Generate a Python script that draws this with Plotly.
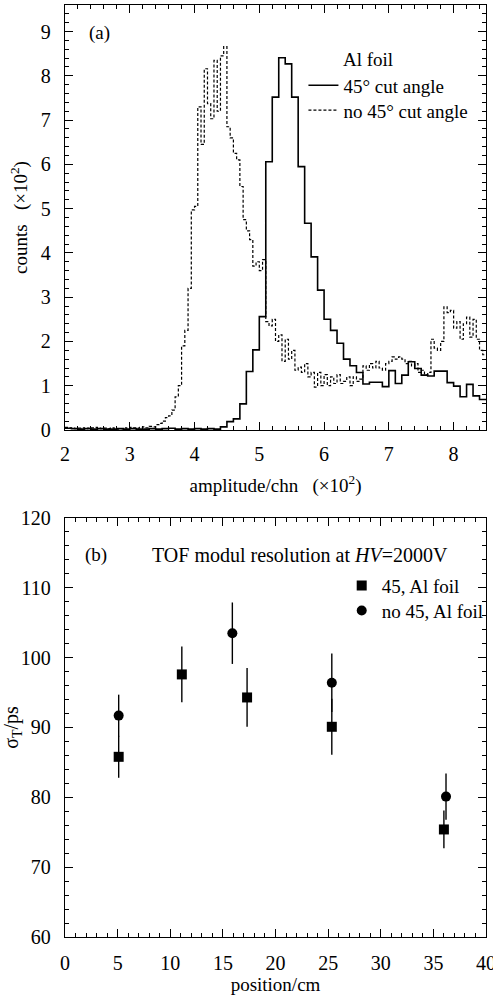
import numpy as np
import plotly.graph_objects as go

# ---------------- data: panel (a) histograms ----------------
SOLID_START = 2.0
SOLID_WIDTH = 0.1
solid_counts = [
    0.04, 0.03, 0.02, 0.03, 0.02, 0.03, 0.02, 0.02, 0.03, 0.02, 0.03, 0.02,
    0.02, 0.03, 0.02, 0.03, 0.04, 0.02, 0.03, 0.02, 0.03, 0.02, 0.03, 0.02,
    0.07, 0.19, 0.25, 0.59, 1.32, 1.81, 2.56, 6.06, 7.52, 8.41, 8.27, 7.52,
    5.95, 4.67, 3.91, 3.16, 2.50, 2.25, 1.96, 1.60, 1.45, 1.30, 1.04, 1.08,
    1.08, 0.98, 1.34, 1.05, 1.24, 1.54, 1.39, 1.24, 1.22, 1.33, 1.33, 1.07,
    0.99, 0.75, 1.03, 0.77, 0.69,
]

DASH_START = 2.0
DASH_WIDTH = 0.05
dashed_counts = [
    0.06, 0.05, 0.04, 0.03, 0.04, 0.05, 0.03, 0.04, 0.05, 0.06, 0.04, 0.03,
    0.04, 0.03, 0.05, 0.04, 0.02, 0.03, 0.05, 0.04, 0.06, 0.05, 0.04, 0.06,
    0.07, 0.05, 0.08, 0.07,
    0.12, 0.15, 0.20, 0.28, 0.32, 0.45, 0.75, 1.00, 1.90, 2.25, 3.20, 4.97,
    5.05, 7.30, 6.45, 8.16, 7.37, 7.03, 8.35, 7.20, 8.45, 8.66, 6.85, 6.60,
    6.25, 6.10, 5.50, 4.75, 4.50, 4.30, 3.70, 3.80, 3.60, 3.85, 2.45, 2.35,
    2.50, 2.00, 2.15, 1.55, 2.05, 1.60, 1.80, 1.35, 1.42, 1.30, 1.50, 1.20,
    1.30, 0.97, 1.30, 1.00, 1.25, 1.00, 1.20, 1.05, 1.25, 1.05, 1.10, 1.20,
    1.00, 1.20, 1.10, 1.15, 1.45, 1.35, 1.50, 1.40, 1.55, 1.40, 1.35, 1.50,
    1.55, 1.65, 1.60, 1.65, 1.60, 1.50, 1.55, 1.45, 1.50, 1.30, 1.35, 1.25,
    1.30, 2.05, 1.85, 1.80, 2.00, 2.78, 2.65, 2.70, 2.30, 2.45, 2.05, 2.40,
    2.55, 2.10, 2.50, 2.05, 1.80, 1.70,
]

# ---------------- data: panel (b) resolution ----------------
sq_pos = [5.1, 11.1, 17.3, 25.35, 36.0]
sq_res = [85.8, 97.6, 94.3, 90.1, 75.4]
sq_err = [3.0, 4.0, 4.2, 4.0, 2.7]

ci_pos = [5.1, 15.9, 25.35, 36.2]
ci_res = [91.7, 103.5, 96.4, 80.1]
ci_err = [3.0, 4.4, 4.2, 3.3]


def step_xy(start, width, vals):
    edges = start + width * np.arange(len(vals) + 1)
    ys = list(vals) + [vals[-1]]
    return edges, ys


FONT = "Liberation Serif"
TICK_SIZE = 20
TEXT_SIZE = 19

fig = go.Figure()

sx, sy = step_xy(SOLID_START, SOLID_WIDTH, solid_counts)
dx, dy = step_xy(DASH_START, DASH_WIDTH, dashed_counts)

fig.add_trace(go.Scatter(
    x=sx, y=sy, mode="lines", line=dict(shape="hv", color="black", width=1.6),
    name="45° cut angle", xaxis="x", yaxis="y", legend="legend"))
fig.add_trace(go.Scatter(
    x=dx, y=dy, mode="lines",
    line=dict(shape="hv", color="black", width=1.2, dash="3px,2px"),
    name="no 45° cut angle", xaxis="x", yaxis="y", legend="legend3"))

err_style = dict(type="data", thickness=1.4, width=0, color="black")
fig.add_trace(go.Scatter(
    x=sq_pos, y=sq_res, mode="markers",
    marker=dict(symbol="square", size=10, color="black"),
    error_y=dict(array=sq_err, **err_style),
    name="45, Al foil", xaxis="x2", yaxis="y2", legend="legend2"))
fig.add_trace(go.Scatter(
    x=ci_pos, y=ci_res, mode="markers",
    marker=dict(symbol="circle", size=10, color="black"),
    error_y=dict(array=ci_err, **err_style),
    name="no 45, Al foil", xaxis="x2", yaxis="y2", legend="legend4"))

axis_common = dict(
    showgrid=False, zeroline=False, showline=True, linecolor="black",
    linewidth=1.3, mirror="allticks", ticks="inside", ticklen=8,
    tickwidth=1.3, tickcolor="black", automargin=False,
    ticklabeloverflow="allow",
    tickfont=dict(family=FONT, size=TICK_SIZE, color="black"),
)
minor_common = dict(ticks="inside", ticklen=4, tickwidth=1.1,
                    tickcolor="black")


def legend_at(x, y):
    return dict(x=x, y=y, xanchor="left", yanchor="top",
                bgcolor="rgba(0,0,0,0)", borderwidth=0,
                font=dict(family=FONT, size=TEXT_SIZE, color="black"))


fig.update_layout(
    width=493, height=997,
    margin=dict(l=65, r=6, t=5, b=60),
    paper_bgcolor="white", plot_bgcolor="white",
    font=dict(family=FONT, color="black", size=TEXT_SIZE),
    xaxis=dict(
        domain=[0, 1], anchor="y", range=[2, 8.5], tick0=2, dtick=1,
        minor=dict(dtick=0.2, **minor_common), ticklabelstandoff=6,
        title=dict(text="amplitude/chn   (×10<sup>2</sup>)",
                   font=dict(family=FONT, size=TEXT_SIZE), standoff=14),
        **axis_common),
    yaxis=dict(
        domain=[0.544, 1.0], anchor="x", range=[0, 9.6], tick0=0, dtick=1,
        minor=dict(dtick=0.2, **minor_common), ticklabelstandoff=9,
        title=dict(text="counts   (×10<sup>2</sup>)",
                   font=dict(family=FONT, size=TEXT_SIZE), standoff=8),
        **axis_common),
    xaxis2=dict(
        domain=[0, 1], anchor="y2", range=[0, 40], tick0=0, dtick=5,
        minor=dict(dtick=1, **minor_common), ticklabelstandoff=8,
        title=dict(text="position/cm", font=dict(family=FONT, size=TEXT_SIZE),
                   standoff=4),
        **axis_common),
    yaxis2=dict(
        domain=[0, 0.4496], anchor="x2", range=[60, 120], tick0=60, dtick=10,
        minor=dict(dtick=2, **minor_common), ticklabelstandoff=9,
        title=dict(text="σ<sub>T</sub>/ps",
                   font=dict(family=FONT, size=TEXT_SIZE + 1), standoff=4),
        **axis_common),
    legend=legend_at(0.565, 0.9342),
    legend3=legend_at(0.565, 0.9074),
    legend2=legend_at(0.6557, 0.3975),
    legend4=legend_at(0.6557, 0.3705),
    showlegend=True,
)

fig.add_annotation(text="(a)", x=2.54, y=8.96, xref="x", yref="y",
                   showarrow=False, font=dict(family=FONT, size=TEXT_SIZE))
fig.add_annotation(text="Al foil", x=6.26, y=8.38, xref="x", yref="y",
                   xanchor="left", showarrow=False,
                   font=dict(family=FONT, size=TEXT_SIZE))
fig.add_annotation(text="(b)", x=2.9, y=114.7, xref="x2", yref="y2",
                   showarrow=False, font=dict(family=FONT, size=TEXT_SIZE))
fig.add_annotation(text="TOF modul resolution at <i>HV</i>=2000V",
                   x=8.1, y=114.7, xref="x2", yref="y2", xanchor="left",
                   showarrow=False, font=dict(family=FONT, size=TEXT_SIZE + 1))

fig.write_html("out.html")
